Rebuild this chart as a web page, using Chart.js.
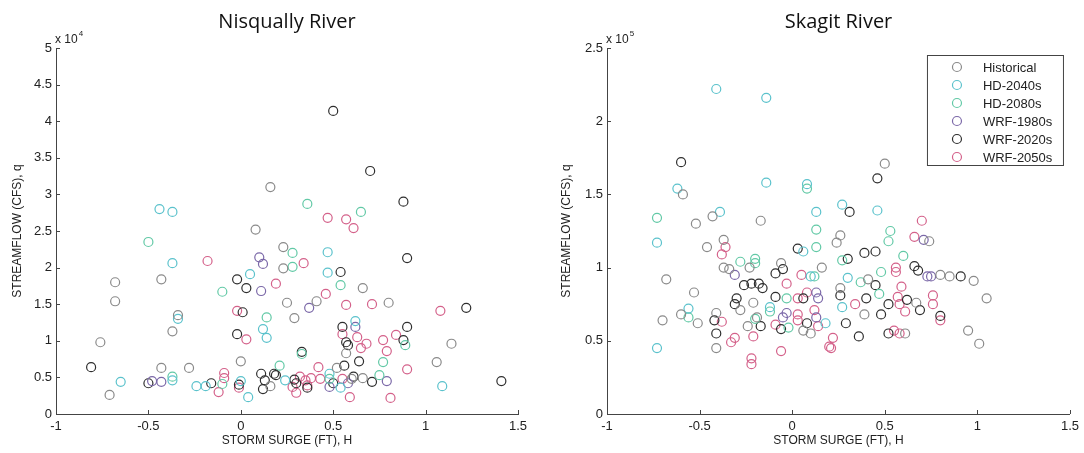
<!DOCTYPE html>
<html lang="en">
<head>
  <meta name="viewport" content="width=device-width, initial-scale=1">
  <title>Storm surge vs streamflow</title>
  <style>
    body { margin: 0; background: #fff; }
    .panel { position: absolute; top: 0; width: 542px; height: 453px; }
    #left { left: 0; }
    #right { left: 542px; }
  </style>
</head>
<body>
  <div class="panel" id="left"><canvas id="nisqually"></canvas></div>
  <div class="panel" id="right"><canvas id="skagit"></canvas></div>
  <script src="https://cdn.jsdelivr.net/npm/chart.js"></script>
  <script>
    // series names + colours
    var seriesNames = ['Historical', 'HD-2040s', 'HD-2080s', 'WRF-1980s', 'WRF-2020s', 'WRF-2050s'];
    var seriesColors = ['#8a8a8a', '#5bc2cc', '#62c9a6', '#7b68a8', '#2e2e2e', '#d4618a'];

    var xTicks = [-1, -0.5, 0, 0.5, 1, 1.5];
    var nisqYTicks = [0, 0.5, 1, 1.5, 2, 2.5, 3, 3.5, 4, 4.5, 5];   // x 10^4 cfs
    var skagYTicks = [0, 0.5, 1, 1.5, 2, 2.5];                      // x 10^5 cfs

    // Nisqually River: [surge ft, streamflow x10^4 cfs]
    var nisqHistorical = [[0.16,3.10],[0.08,2.52],[0.23,2.28],[-0.68,1.80],[-0.43,1.84],[-0.68,1.54],[0.25,1.52],[-0.34,1.35],
      [-0.37,1.13],[-0.76,0.98],[-0.43,0.63],[-0.28,0.63],[0.00,0.72],[-0.71,0.26],[0.16,0.38],[0.66,1.72],[0.41,1.54],
      [0.80,1.52],[0.29,1.31],[1.14,0.96],[0.57,0.83],[1.06,0.71],[0.52,0.63],[0.60,0.48],[0.66,0.49],[0.23,1.99]];
    var nisqHD2040 = [[-0.44,2.80],[-0.37,2.76],[-0.37,2.06],[0.05,1.91],[-0.34,1.30],[0.12,1.16],[0.14,1.04],[-0.65,0.44],
      [-0.37,0.46],[-0.24,0.38],[-0.19,0.38],[0.00,0.45],[0.24,0.46],[0.47,2.21],[0.47,1.93],[0.62,1.27],[0.48,0.55],
      [0.54,0.36],[1.09,0.38],[0.04,0.23]];
    var nisqHD2080 = [[0.36,2.87],[0.65,2.76],[-0.50,2.35],[-0.10,1.67],[0.14,1.32],[-0.37,0.51],[-0.10,0.41],[0.21,0.66],
      [0.54,1.76],[0.28,2.01],[0.89,0.94],[0.33,0.82],[0.77,0.71],[0.48,0.48],[0.75,0.53],[0.28,2.20]];
    var nisqWRF1980 = [[0.10,2.14],[0.12,2.05],[0.11,1.68],[-0.48,0.45],[-0.43,0.44],[0.37,1.45],[0.62,1.19],[0.48,0.37],
      [0.58,0.42],[0.79,0.45]];
    var nisqWRF2020 = [[0.50,4.14],[0.70,3.32],[0.88,2.90],[-0.02,1.84],[0.03,1.72],[0.01,1.39],[-0.02,1.09],[-0.81,0.64],
      [-0.50,0.42],[-0.16,0.42],[-0.01,0.40],[0.11,0.55],[0.13,0.46],[0.12,0.34],[0.19,0.53],[0.90,2.13],[0.54,1.94],
      [1.22,1.45],[0.55,1.19],[0.90,1.19],[0.57,0.98],[0.58,0.94],[0.88,1.01],[0.33,0.85],[0.64,0.72],[0.56,0.66],
      [0.18,0.55],[0.29,0.47],[0.30,0.42],[0.36,0.36],[0.50,0.42],[0.61,0.51],[0.71,0.44],[1.41,0.45]];
    var nisqWRF2050 = [[0.47,2.68],[0.57,2.66],[0.61,2.54],[-0.18,2.09],[0.19,1.78],[-0.02,1.41],[0.03,1.02],[-0.12,0.30],
      [-0.09,0.56],[-0.09,0.49],[-0.01,0.36],[0.34,2.06],[0.46,1.64],[0.57,1.49],[0.71,1.50],[1.08,1.41],[0.55,1.09],
      [0.63,1.05],[0.84,1.08],[0.68,0.96],[0.77,1.01],[0.65,0.90],[0.79,0.86],[0.42,0.64],[0.90,0.61],[0.32,0.51],
      [0.35,0.46],[0.36,0.39],[0.38,0.49],[0.28,0.37],[0.30,0.29],[0.43,0.48],[0.55,0.48],[0.59,0.23],[0.81,0.22]];

    // Skagit River: [surge ft, streamflow x10^5 cfs]
    var skagHistorical = [[-0.59,1.50],[-0.52,1.30],[-0.43,1.35],[-0.17,1.32],[0.50,1.71],[0.26,1.22],[0.24,1.17],[0.74,1.18],
      [0.41,0.92],[0.26,0.86],[0.85,0.94],[0.98,0.91],[0.67,0.76],[1.05,0.79],[0.39,0.68],[0.61,0.55],[0.95,0.57],
      [1.01,0.48],[-0.46,1.14],[-0.37,1.19],[-0.37,1.00],[-0.34,0.99],[-0.23,1.00],[-0.06,1.03],[0.16,1.00],[-0.68,0.92],
      [-0.53,0.83],[-0.28,0.71],[-0.21,0.76],[-0.70,0.64],[-0.60,0.68],[-0.51,0.62],[-0.41,0.69],[-0.19,0.66],
      [-0.24,0.60],[0.06,0.57],[0.10,0.55],[-0.41,0.45],[0.80,0.95]];
    var skagHD2040 = [[-0.41,2.22],[-0.14,2.16],[-0.62,1.54],[-0.14,1.58],[0.08,1.57],[-0.39,1.38],[0.13,1.38],[0.27,1.43],
      [0.46,1.39],[0.30,0.93],[0.27,0.73],[-0.73,1.17],[0.06,1.11],[0.10,0.94],[-0.12,0.73],[-0.56,0.72],[0.18,0.62],
      [-0.73,0.45]];
    var skagHD2080 = [[0.08,1.54],[-0.73,1.34],[0.13,1.26],[0.53,1.25],[0.52,1.18],[0.60,1.08],[0.27,1.05],[0.48,0.97],
      [0.37,0.90],[0.47,0.82],[0.13,1.14],[-0.28,1.04],[-0.20,1.06],[-0.20,1.03],[0.12,0.94],[-0.03,0.79],[-0.12,0.70],
      [-0.56,0.66],[-0.20,0.65],[-0.02,0.59]];
    var skagWRF1980 = [[0.71,1.19],[0.73,0.94],[0.75,0.94],[-0.31,0.95],[0.13,0.83],[0.14,0.79],[-0.05,0.66],[-0.03,0.69],
      [0.13,0.66]];
    var skagWRF2020 = [[-0.60,1.72],[0.46,1.61],[0.31,1.38],[0.39,1.10],[0.45,1.11],[0.30,1.06],[0.66,1.01],[0.68,0.98],
      [0.91,0.94],[0.45,0.88],[0.26,0.81],[0.62,0.78],[0.40,0.79],[0.52,0.75],[0.69,0.71],[0.48,0.68],[0.80,0.67],
      [0.29,0.62],[0.36,0.53],[0.52,0.55],[0.03,1.13],[-0.05,0.99],[-0.09,0.96],[-0.26,0.88],[-0.22,0.89],[-0.18,0.89],
      [-0.16,0.86],[-0.30,0.79],[-0.31,0.75],[-0.09,0.80],[0.06,0.79],[-0.42,0.64],[-0.41,0.55],[-0.17,0.60],
      [-0.06,0.58],[0.08,0.62]];
    var skagWRF2050 = [[0.70,1.32],[0.66,1.21],[0.56,1.00],[0.56,0.97],[0.59,0.87],[0.57,0.80],[0.76,0.81],[0.76,0.75],
      [0.34,0.75],[0.58,0.75],[0.61,0.70],[0.80,0.64],[0.55,0.57],[0.58,0.55],[0.22,0.52],[0.21,0.45],[-0.36,1.14],
      [-0.38,1.09],[-0.03,0.89],[0.05,0.95],[0.03,0.79],[0.08,0.83],[-0.38,0.63],[-0.09,0.61],[0.03,0.68],[0.03,0.64],
      [0.12,0.71],[0.14,0.60],[0.20,0.46],[-0.31,0.52],[-0.33,0.49],[-0.06,0.43],[-0.21,0.53],[-0.22,0.38],[-0.22,0.34]];

    var FONT = '"Liberation Sans", Arial, sans-serif';

    function toPoints(arr) {
      return arr.map(function (p) { return { x: p[0], y: p[1] }; });
    }

    function fmt(v) { return String(Math.round(v * 10) / 10); }

    // inward tick marks, exponent label, optional boxed legend
    var extras = {
      id: 'extras',
      afterDraw: function (chart, args, opts) {
        var ctx = chart.ctx, area = chart.chartArea;
        var xs = chart.scales.x, ys = chart.scales.y;
        ctx.save();
        ctx.strokeStyle = '#444';
        ctx.lineWidth = 1;
        ctx.beginPath();
        xs.ticks.forEach(function (t) {
          var px = Math.round(xs.getPixelForValue(t.value)) + 0.5;
          ctx.moveTo(px, area.bottom); ctx.lineTo(px, area.bottom - 4);
        });
        ys.ticks.forEach(function (t) {
          var py = Math.round(ys.getPixelForValue(t.value)) + 0.5;
          ctx.moveTo(area.left, py); ctx.lineTo(area.left + 4, py);
        });
        ctx.stroke();

        // "x 10^n"
        ctx.fillStyle = '#222';
        ctx.font = '12px ' + FONT;
        ctx.textBaseline = 'alphabetic';
        ctx.textAlign = 'left';
        ctx.fillText('x 10', area.left - 1, area.top - 5);
        var w = ctx.measureText('x 10').width;
        ctx.font = '8px ' + FONT;
        ctx.fillText(opts.exponent, area.left + w, area.top - 12);

        if (opts.legend) {
          var bx = area.right - 143, by = area.top + 7, bw = 136, bh = 110;
          ctx.fillStyle = '#fff';
          ctx.fillRect(bx, by, bw, bh);
          ctx.strokeStyle = '#444';
          ctx.strokeRect(bx + 0.5, by + 0.5, bw, bh);
          ctx.font = '13px ' + FONT;
          ctx.textBaseline = 'middle';
          chart.data.datasets.forEach(function (ds, i) {
            var ry = by + 12 + i * 18;
            ctx.strokeStyle = ds.borderColor;
            ctx.lineWidth = 1.2;
            ctx.beginPath();
            ctx.arc(bx + 30, ry, 4.5, 0, Math.PI * 2);
            ctx.stroke();
            ctx.fillStyle = '#222';
            ctx.fillText(ds.label, bx + 56, ry + 1);
          });
        }
        ctx.restore();
      }
    };

    function makeChart(id, title, sets, yMax, yTicks, exponent, yWidth, yTitlePad, rightPad, legend) {
      var datasets = sets.map(function (s, i) {
        return {
          label: seriesNames[i],
          data: toPoints(s),
          borderColor: seriesColors[i],
          backgroundColor: 'rgba(0,0,0,0)',
          borderWidth: 1.2,
          pointRadius: 4.5,
          pointHoverRadius: 4.5
        };
      });
      return new Chart(document.getElementById(id), {
        type: 'scatter',
        data: { datasets: datasets },
        plugins: [extras],
        options: {
          responsive: true,
          maintainAspectRatio: false,
          animation: false,
          layout: { padding: { right: rightPad, top: 0, left: 0, bottom: 0 } },
          plugins: {
            legend: { display: false },
            tooltip: { enabled: false },
            title: {
              display: true,
              text: title,
              fullSize: false,
              color: '#111',
              font: { family: '"Open Sans", "Noto Sans", sans-serif', size: 20, weight: 'normal' },
              padding: { top: 10, bottom: 14 }
            },
            extras: { exponent: exponent, legend: legend }
          },
          scales: {
            x: {
              type: 'linear',
              min: xTicks[0],
              max: xTicks[xTicks.length - 1],
              afterBuildTicks: function (s) { s.ticks = xTicks.map(function (v) { return { value: v }; }); },
              afterFit: function (s) { s.height = 39; },
              grid: { display: false, drawTicks: false },
              border: { display: true, color: '#444', width: 1 },
              ticks: { color: '#222', padding: 5, font: { family: FONT, size: 13 }, callback: fmt },
              title: { display: true, text: 'STORM SURGE (FT), H', color: '#222',
                font: { family: FONT, size: 12 }, padding: { top: 0, bottom: 5 } }
            },
            y: {
              type: 'linear',
              min: 0,
              max: yMax,
              afterBuildTicks: function (s) { s.ticks = yTicks.map(function (v) { return { value: v }; }); },
              afterFit: function (s) { s.width = yWidth; },
              grid: { display: false, drawTicks: false },
              border: { display: true, color: '#444', width: 1 },
              ticks: { color: '#222', padding: 4, font: { family: FONT, size: 13 }, callback: fmt },
              title: { display: true, text: 'STREAMFLOW (CFS), q', color: '#222',
                font: { family: FONT, size: 12 }, padding: { top: yTitlePad, bottom: 0 } }
            }
          }
        }
      });
    }

    makeChart('nisqually', 'Nisqually River',
      [nisqHistorical, nisqHD2040, nisqHD2080, nisqWRF1980, nisqWRF2020, nisqWRF2050],
      5, nisqYTicks, '4', 56, 10, 24, false);

    makeChart('skagit', 'Skagit River',
      [skagHistorical, skagHD2040, skagHD2080, skagWRF1980, skagWRF2020, skagWRF2050],
      2.5, skagYTicks, '5', 65, 17, 12, true);
  </script>
</body>
</html>
